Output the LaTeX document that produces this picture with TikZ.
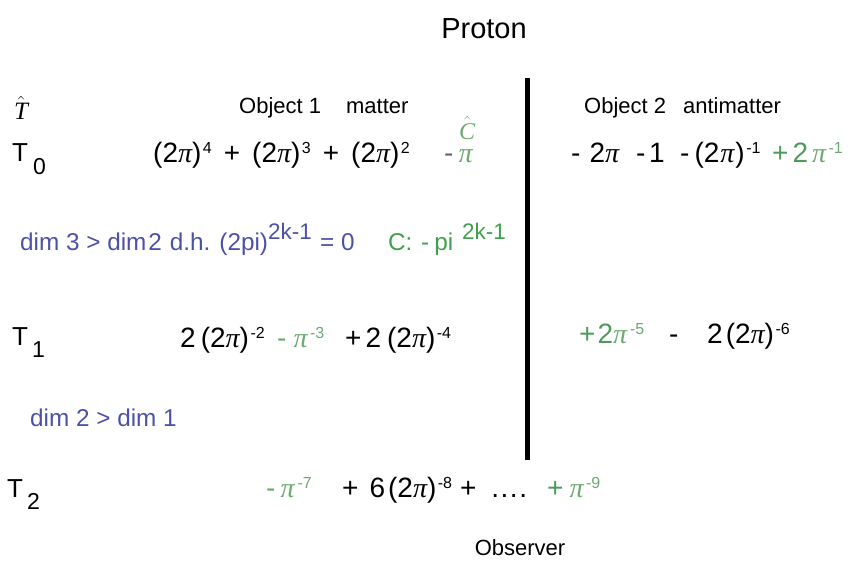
\documentclass[tikz,border=0pt]{standalone}
\usepackage{fontspec}
\setmainfont{Liberation Sans}
\newfontfamily\serifpi{Liberation Serif}
\definecolor{dimblue}{HTML}{4B52A6}
\definecolor{cgreen}{HTML}{3FA04E}
\definecolor{mgreen}{HTML}{4E9A5C}
\definecolor{pigreen}{HTML}{6DAA6F}
\newcommand{\PI}{{\serifpi\itshape π}}
\newcommand{\up}[2][1.5pt]{\hspace{#1}\raisebox{9pt}{\fontsize{16}{16}\selectfont #2}}
\tikzset{
  txt/.style={inner sep=0pt, anchor=base west, font=\fontsize{28}{28}\selectfont},
  lbl/.style={inner sep=0pt, anchor=base west, font=\fontsize{26}{26}\selectfont},
  head/.style={inner sep=0pt, anchor=base west, font=\fontsize{22}{22}\selectfont},
  bluetxt/.style={inner sep=0pt, anchor=base west, font=\fontsize{24.3}{24.3}\selectfont, text=dimblue},
  ctxt/.style={inner sep=0pt, anchor=base west, font=\fontsize{24.3}{24.3}\selectfont, text=cgreen},
  hisup/.style={inner sep=0pt, anchor=base west, font=\fontsize{22.5}{22.5}\selectfont},
  grn/.style={txt, text=mgreen},
  pig/.style={txt, text=pigreen},
  divider/.style={line width=4.5pt}
}
\begin{document}
\begin{tikzpicture}[x=1pt,y=-1pt]
\useasboundingbox (0,0) rectangle (852,563);
% title
\node[inner sep=0pt, anchor=base, font=\fontsize{29}{29}\selectfont] (title) at (484,38) {Proton};
% divider
\coordinate (top) at (527.5,78);
\coordinate (bot) at (527.5,460);
\draw[divider] (top) -- (bot);
% headers
\node[lbl, font=\fontsize{25}{25}\selectfont] (that) at (14,119) {$\hat{\mbox{\serifpi\itshape T}}$};
\node[head] (obj1) at (239,113) {Object 1\hspace{25pt}matter};
\node[head] (obj2) at (584,113) {Object 2\hspace{17pt}antimatter};
\node[lbl, text=pigreen, font=\fontsize{24}{24}\selectfont] (chat) at (459,139) {$\hat{\mbox{\serifpi\itshape C}}$};
% T0
\node[lbl] (t0) at (12,161) {T};
\node[lbl, font=\fontsize{23}{23}\selectfont] (t0s) at (33,174) {0};
\node[txt] (r0a) at (153,162) {(2\PI)\up{4}\hspace{12pt}+\hspace{12pt}(2\PI)\up{3}\hspace{12pt}+\hspace{12pt}(2\PI)\up{2}};
\node[txt, text=black!60] (r0b) at (444,162) {-\hspace{5pt}\textcolor{pigreen}{\PI}};
\node[txt] (r0c) at (571,162) {-\hspace{9pt}2\PI};
\node[txt] (r0d) at (636,162) {-\hspace{3.5pt}1};
\node[txt] (r0e) at (680,162) {-\hspace{5pt}(2\hspace{1pt}\PI\hspace{1pt})\up{-1}};
\node[grn] (r0f) at (772,162) {+\hspace{4pt}2\hspace{4pt}\textcolor{pigreen}{\PI\up[2.5pt]{-1}}};
% blue line
\node[bluetxt] (dim3) at (20,250) {dim 3 > dim\hspace{2pt}2\hspace{8pt}d.h. (2pi)};
\node[hisup, text=dimblue] (dim3s) at (268,239) {2k-1};
\node[bluetxt] (dim3e) at (320,250) {= 0};
\node[ctxt] (cc) at (388,250) {C:};
\node[ctxt] (cpi) at (421,250) {-\hspace{5pt}pi};
\node[hisup, text=cgreen] (cpis) at (462,239) {2k-1};
% T1
\node[lbl] (t1) at (12,345) {T};
\node[lbl, font=\fontsize{23}{23}\selectfont] (t1s) at (32,357) {1};
\node[txt] (r1a) at (180,347) {2\hspace{5pt}(2\PI)\up{-2}};
\node[pig] (r1b) at (277,347) {-\hspace{7pt}\PI\up[2.5pt]{-3}};
\node[txt] (r1c) at (345,347) {+\hspace{4pt}2\hspace{6pt}(2\PI)\up{-4}};
\node[grn] (r1d) at (579,343) {+\hspace{2pt}2\textcolor{pigreen}{\PI\up[3pt]{-5}}};
\node[txt] (r1e) at (669,343) {-};
\node[txt] (r1f) at (707,343) {2\hspace{3pt}(2\PI)\up{-6}};
\node[bluetxt] (dim2) at (30,426) {dim 2 > dim 1};
% T2
\node[lbl] (t2) at (7,497) {T};
\node[lbl, font=\fontsize{23}{23}\selectfont] (t2s) at (27,509) {2};
\node[pig] (r2a) at (266,497) {-\hspace{5pt}\PI\up[3pt]{-7}};
\node[txt] (r2b) at (342,497) {+\hspace{11pt}6\hspace{3pt}(2\PI)\up{-8}\hspace{8pt}+\hspace{15pt}.\hspace{1.5pt}.\hspace{1.5pt}.\hspace{1.5pt}.};
\node[grn] (r2c) at (547,497) {+\hspace{6pt}\textcolor{pigreen}{\PI\up[2.5pt]{-9}}};
% observer
\node[head, anchor=base] (obs) at (520,555) {Observer};
\end{tikzpicture}
\end{document}
